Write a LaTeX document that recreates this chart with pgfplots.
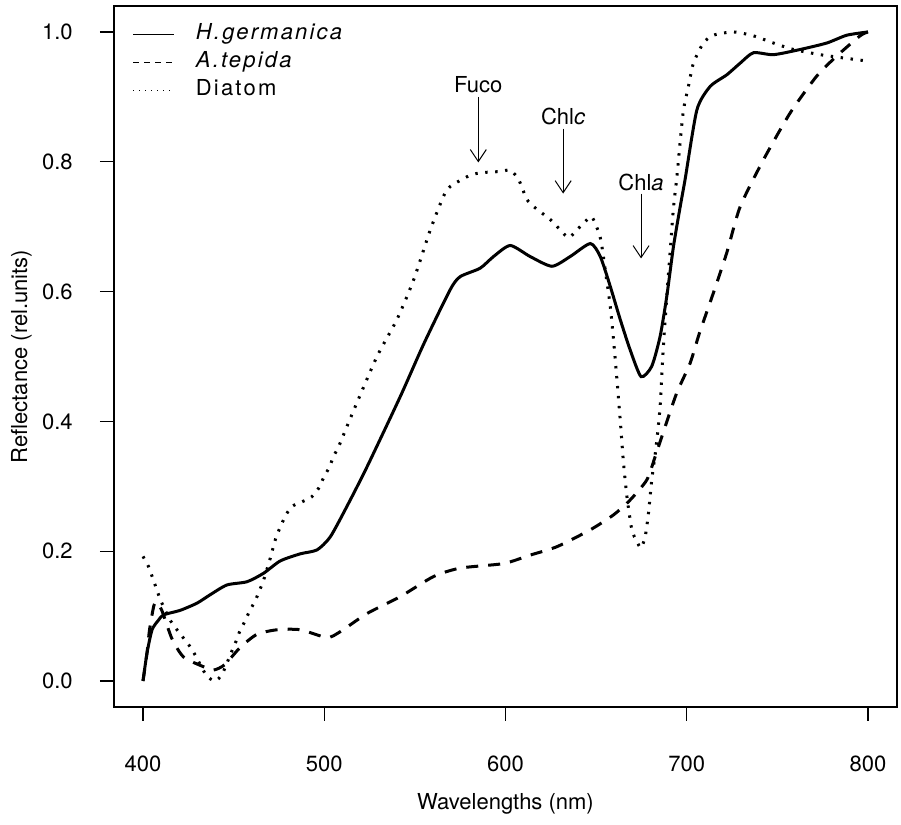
\documentclass[border=0pt]{standalone}
\usepackage{pgfplots}
\pgfplotsset{compat=1.18}
\usepackage{fontspec}
\setmainfont{TeX Gyre Heros}
\newfontfamily\legfont[LetterSpace=10]{TeX Gyre Heros}
\usetikzlibrary{arrows.meta}
\begin{document}
\begin{tikzpicture}[font=\fontsize{11}{13}\selectfont]
\useasboundingbox (0,0) rectangle (450.5pt,412.5pt);
\begin{axis}[
  at={(57pt,59pt)}, anchor=south west,
  scale only axis, width=391.5pt, height=350.5pt,
  xmin=384, xmax=816, ymin=-0.04, ymax=1.04,
  xtick={400,500,600,700,800}, ytick={0,0.2,0.4,0.6,0.8,1},
  tick pos=left, tick align=outside, major tick length=7pt,
  axis line style={line width=0.6pt},
  every tick/.style={line width=0.6pt, black},
  /pgf/number format/assume math mode=true,
  yticklabel style={/pgf/number format/fixed, /pgf/number format/fixed zerofill, /pgf/number format/precision=1},
  yticklabel style={anchor=east, inner sep=0pt, xshift=-13.5pt},
  xticklabel style={anchor=north, inner sep=0pt, yshift=-17.5pt},
  xlabel={Wavelengths (nm)},
  ylabel={Reflectance (rel.units)},
  xlabel style={at={(axis description cs:0.5,-0.1469)}, anchor=base, inner sep=0pt},
  ylabel style={at={(axis description cs:-0.1111,0.5)}, anchor=base, inner sep=0pt},
  legend style={draw=none, fill=none, at={(axis description cs:0,1)}, anchor=north west,
    xshift=6pt, yshift=-5.5pt, row sep=1pt, column sep=9.5pt,
    nodes={inner sep=1pt, text height=8pt, text depth=3pt}, font=\fontsize{11}{13}\legfont},
  legend cell align=left,
  legend image code/.code={\draw[#1] (0pt,0pt) -- (20.5pt,0pt);},
]
\addlegendimage{black, line width=0.75pt, solid}
\addlegendimage{black, line width=0.75pt, dash pattern=on 3pt off 2.5pt}
\addlegendimage{black, line width=0.75pt, dash pattern=on 0.6pt off 2.4pt}
\addlegendentry{\itshape H.germanica}
\addlegendentry{\itshape A.tepida}
\addlegendentry{Diatom}

% H.germanica
\addplot[black, line width=1.5pt, smooth, tension=0.4, forget plot] coordinates {
(400,0.000) (402.2,0.043) (405,0.079) (408.6,0.094) (411.4,0.102) (420.6,0.109)
(429.8,0.120) (437.1,0.133) (446.3,0.148) (457.4,0.153) (466.5,0.166) (475.7,0.185)
(486.8,0.196) (496,0.202) (503.3,0.222) (512.5,0.269) (523.6,0.330)
(541.9,0.438) (555,0.520) (569.5,0.603) (575,0.623) (586,0.636) (593.4,0.654) (602.6,0.671)
(613.6,0.654) (625.6,0.639) (635.7,0.654) (646.8,0.674) (652.3,0.654) (657.8,0.608)
(663.3,0.557) (668.8,0.510) (674.8,0.469) (680.7,0.485) (685.3,0.531) (689,0.593)
(692.7,0.670) (696.4,0.731) (699.1,0.773) (705.6,0.880) (712.9,0.916) (722.1,0.934)
(729.5,0.952) (736.8,0.968) (747.8,0.965) (762.6,0.973) (777.3,0.983) (788.3,0.995)
(800,1.000)
};
% A.tepida
\addplot[black, line width=1.5pt, dash pattern=on 6pt off 5pt, smooth, tension=0.4, forget plot] coordinates {
(400,0.000) (402.2,0.043) (403.6,0.079) (405.9,0.115) (407.5,0.122) (410.5,0.108)
(416,0.065) (422.4,0.037) (433.4,0.022) (439,0.017) (445,0.025) (453.7,0.052)
(462.9,0.072) (474,0.079) (486.8,0.079) (501.5,0.067) (508.8,0.076) (523.6,0.104)
(541.9,0.130) (560.3,0.161) (575,0.174) (598.9,0.181) (613.6,0.194) (628.4,0.207)
(646.8,0.233) (659.6,0.256) (668.8,0.279) (678,0.310) (682.6,0.346) (688.1,0.392)
(694.5,0.444) (701.9,0.490) (707,0.536) (714.7,0.598) (722.1,0.660) (729.5,0.731)
(742.3,0.803) (757,0.875) (771.7,0.932) (782.8,0.963) (795.6,0.994) (800,1.000)
};
% Diatom
\addplot[black, line width=1.5pt, dash pattern=on 1.2pt off 3.8pt, smooth, tension=0.4, forget plot] coordinates {
(400,0.192) (403.1,0.176) (405.3,0.159) (407.3,0.143) (409.5,0.126) (411.9,0.111)
(414.7,0.095) (418.2,0.081) (422.1,0.067) (425.7,0.054) (428.8,0.040) (434.9,0.009)
(439.9,0.000) (443.9,0.012) (448.7,0.044) (451.3,0.061) (453.3,0.076) (456.4,0.093)
(458.8,0.108) (461.8,0.123) (464.2,0.139) (466.5,0.155) (470.2,0.189) (473.5,0.222)
(478.5,0.254) (482.2,0.269) (487.7,0.276) (493.2,0.284) (496.9,0.297) (499.6,0.313)
(502.9,0.330) (505.1,0.346) (507.9,0.361) (512.5,0.392) (517.6,0.426) (529.1,0.500)
(540.1,0.557) (549.3,0.618) (558.5,0.695) (565.8,0.747) (569.5,0.762) (579.6,0.778)
(586,0.783) (597.1,0.785) (602.6,0.787) (607.2,0.773) (611.8,0.742) (616.4,0.729)
(624.7,0.711) (630.2,0.695) (634.8,0.683) (639.4,0.695) (644,0.708) (647.7,0.715)
(652.3,0.683) (655,0.634) (657.8,0.577) (659.6,0.526) (661.5,0.464) (663.3,0.402)
(665.1,0.336) (667,0.284) (669.7,0.233) (672.5,0.215) (674.8,0.205) (677.1,0.223)
(678.9,0.259) (680.7,0.310) (683.1,0.361) (685.3,0.423) (687.1,0.515) (689,0.593)
(690.8,0.660) (692.7,0.730) (694.5,0.775) (696.5,0.835) (698.2,0.880) (700.9,0.916)
(703.7,0.952) (709.2,0.983) (714.7,0.995) (725.8,1.000) (736.8,0.994) (747.8,0.983)
(758.9,0.973) (773.6,0.965) (786.4,0.960) (800,0.955)
};

\node[inner sep=0pt] at (axis cs:585,0.919) {Fuco};
\draw[line width=0.5pt, -{Straight Barb[length=6pt,width=8pt]}] (axis cs:585,0.900) -- (axis cs:585,0.799);
\node[inner sep=0pt] at (axis cs:631.8,0.870) {Chl\textit{c}};
\draw[line width=0.5pt, -{Straight Barb[length=6pt,width=8pt]}] (axis cs:631.8,0.851) -- (axis cs:631.8,0.751);
\node[inner sep=0pt] at (axis cs:674.8,0.768) {Chl\textit{a}};
\draw[line width=0.5pt, -{Straight Barb[length=6pt,width=8pt]}] (axis cs:674.8,0.751) -- (axis cs:674.8,0.651);
\end{axis}
\end{tikzpicture}
\end{document}
